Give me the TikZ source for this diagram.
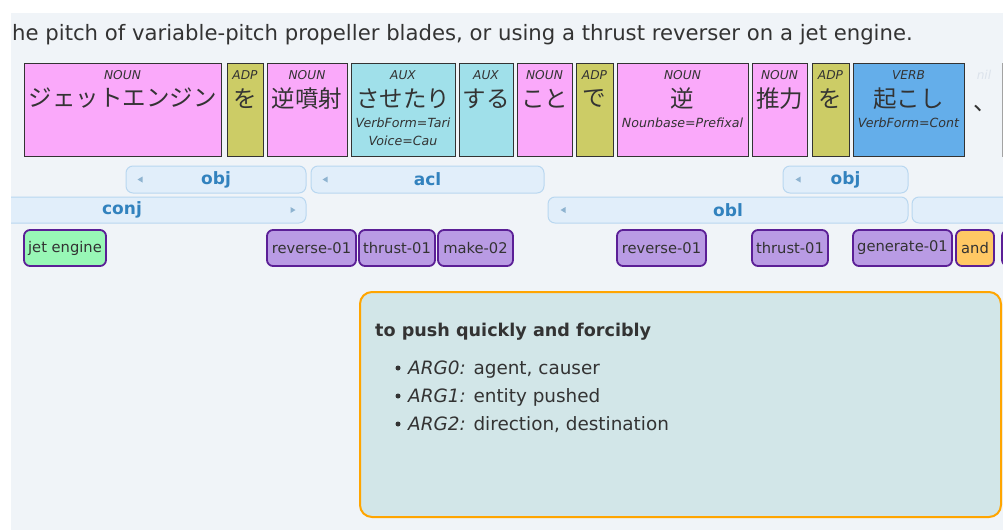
\documentclass[tikz,border=0pt]{standalone}
\usepackage{fontspec}
\setmainfont{DejaVu Sans}
\newfontfamily\jfont{Noto Sans CJK JP}
\usepackage{xcolor}
\usetikzlibrary{positioning}

\definecolor{panel}{HTML}{F0F4F8}
\definecolor{nouncol}{HTML}{FAA9FA}
\definecolor{adpcol}{HTML}{CCCC66}
\definecolor{auxcol}{HTML}{A0E0EA}
\definecolor{verbcol}{HTML}{64AEEA}
\definecolor{depfill}{HTML}{E1EEFA}
\definecolor{depline}{HTML}{B9D7F0}
\definecolor{deptext}{HTML}{3282BE}
\definecolor{deptip}{HTML}{8EB3D0}
\definecolor{amrfill}{HTML}{B99BE4}
\definecolor{amrline}{HTML}{5B1F96}
\definecolor{conceptcol}{HTML}{98F7B6}
\definecolor{andcol}{HTML}{FFC864}
\definecolor{popfill}{HTML}{D2E6E8}
\definecolor{popline}{HTML}{FFA500}
\definecolor{ink}{HTML}{333333}
\definecolor{faded}{HTML}{DCE3EC}

\begin{document}
\begin{tikzpicture}[x=1pt, y=-1pt, inner sep=0pt, text=ink]
  \tikzstyle{tok} = [draw=ink, line width=1.2pt, anchor=north west, minimum height=93pt]
  \tikzstyle{upos} = [font=\fontsize{12.2}{14}\selectfont\itshape, anchor=north]
  \tikzstyle{jword} = [font=\jfont\fontsize{23.5}{26}\selectfont]
  \tikzstyle{feats} = [font=\fontsize{12.6}{18}\selectfont\itshape, align=center, anchor=north]
  \tikzstyle{deprel} = [draw=depline, fill=depfill, line width=1pt, rounded corners=7pt, font=\fontsize{17}{18}\selectfont\bfseries, text=deptext]
  \tikzstyle{tipmark} = [fill=deptip]
  \tikzstyle{amrnode} = [draw=amrline, fill=amrfill, line width=1.8pt, rounded corners=6pt, minimum height=36pt, font=\fontsize{14.7}{16}\selectfont]

  \useasboundingbox (0,0) rectangle (1003,530);
  \fill[white] (0,0) rectangle (1003,530);
  \clip (11,13) rectangle (1003,530);
  \fill[panel] (11,13) rectangle (1003,530);

  % sentence context
  \node[anchor=base west, font=\fontsize{21.2}{24}\selectfont] (ctx) at (12,40)
    {he pitch of variable-pitch propeller blades, or using a thrust reverser on a jet engine.};

  % tokens
  \foreach \n/\xa/\w/\col/\upos/\word/\feat in {
      1/24/197/nouncol/NOUN/ジェットエンジン/{},
      2/227/36/adpcol/ADP/を/{},
      3/267/80/nouncol/NOUN/逆噴射/{},
      4/351/104/auxcol/AUX/させたり/{VerbForm=Tari\\Voice=Cau},
      5/459/54/auxcol/AUX/する/{},
      6/517/55/nouncol/NOUN/こと/{},
      7/576/37/adpcol/ADP/で/{},
      8/617/131/nouncol/NOUN/逆/{Nounbase=Prefixal},
      9/752/55/nouncol/NOUN/推力/{},
      10/812/37/adpcol/ADP/を/{},
      11/853/111/verbcol/VERB/起こし/{VerbForm=Cont}} {
    \node[tok, fill=\col, minimum width=\w pt] (tok\n) at (\xa,63) {};
    \node[upos] (upos\n) at ({\xa+\w/2},70.5) {\upos};
    \node[jword] (word\n) at ({\xa+\w/2},98.5) {\word};
    \node[feats] (feat\n) at ({\xa+\w/2},118) {\feat};
  }
  \node[upos, text=faded] (upos12) at (984,70.5) {nil};
  \node[jword, anchor=base, text height=8pt, text depth=0pt] (word12) at (985,110) {、};
  \node[tok, draw=ink!45, minimum width=60pt] (tok13) at (1002,63) {};

  % dependency relations
  \node[deprel, minimum width=180pt, minimum height=27pt] (obj1) at (216,179.5) {obj};
  \node[deprel, minimum width=233pt, minimum height=27pt] (acl) at (427.5,179.5) {acl};
  \node[deprel, minimum width=125pt, minimum height=27pt] (obj2) at (845.5,179.5) {obj};
  \node[deprel, minimum width=368pt, minimum height=26pt] (conj) at (122,210) {conj};
  \node[deprel, minimum width=360pt, minimum height=26pt] (obl) at (728,210) {obl};
  \node[deprel, minimum width=188pt, minimum height=26pt] (rest) at (1006,210) {};
  \fill[tipmark] ([xshift=12pt]obj1.west) -- ++(5,-3) -- ++(0,6) -- cycle;
  \fill[tipmark] ([xshift=12pt]acl.west) -- ++(5,-3) -- ++(0,6) -- cycle;
  \fill[tipmark] ([xshift=13pt]obj2.west) -- ++(5,-3) -- ++(0,6) -- cycle;
  \fill[tipmark] ([xshift=13pt]obl.west) -- ++(5,-3) -- ++(0,6) -- cycle;
  \fill[tipmark] ([xshift=-11pt]conj.east) -- ++(-5,-3) -- ++(0,6) -- cycle;

  % AMR concepts
  \node[amrnode, fill=conceptcol, minimum width=82pt] (jet) at (65,248) {jet engine};
  \node[amrnode, minimum width=89pt] (rev1) at (311.5,248) {reverse-01};
  \node[amrnode, minimum width=76pt] (thr1) at (397,248) {thrust-01};
  \node[amrnode, minimum width=75pt] (make) at (475.5,248) {make-02};
  \node[amrnode, minimum width=89pt] (rev2) at (661.5,248) {reverse-01};
  \node[amrnode, minimum width=76pt] (thr2) at (790,248) {thrust-01};
  \node[amrnode, minimum width=99pt] (gen) at (902.5,248) {generate-01};
  \node[amrnode, fill=andcol, minimum width=38pt] (and) at (975,248) {and};
  \node[amrnode, minimum width=60pt] (cut) at (1032,248) {};

  % frame popup
  \node[draw=popline, fill=popfill, line width=2pt, rounded corners=12pt, anchor=north west,
        minimum width=641pt, minimum height=225pt] (sense) at (359,291) {};
  \node[anchor=base west, font=\fontsize{17.6}{20}\selectfont\bfseries] (sensetitle) at (375,336)
    {to push quickly and forcibly};
  \node[anchor=base west, font=\fontsize{18.4}{22}\selectfont] (arg0) at (408,374) {\textit{ARG0:} agent, causer};
  \node[anchor=base west, font=\fontsize{18.4}{22}\selectfont] (arg1) at (408,402) {\textit{ARG1:} entity pushed};
  \node[anchor=base west, font=\fontsize{18.4}{22}\selectfont] (arg2) at (408,430) {\textit{ARG2:} direction, destination};
  \foreach \a in {arg0,arg1,arg2}
    \fill[ink] ([xshift=-10pt,yshift=6pt]\a.base west) circle (2.5pt);
\end{tikzpicture}
\end{document}
